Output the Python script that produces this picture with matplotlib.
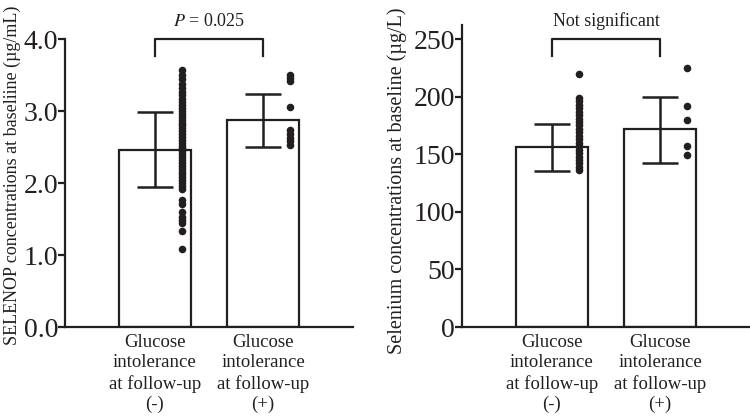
import matplotlib
matplotlib.use("Agg")
import matplotlib.pyplot as plt

plt.rcParams["font.family"] = ["Liberation Serif", "DejaVu Serif"]
plt.rcParams["mathtext.fontset"] = "stix"
INK = "#231f20"

categories = ["Glucose\nintolerance\nat follow-up\n(-)", "Glucose\nintolerance\nat follow-up\n(+)"]

# SELENOP (µg/mL)
selenop_mean = [2.46, 2.875]
selenop_lo = [1.94, 2.50]
selenop_hi = [2.98, 3.23]
selenop_neg = [3.57, 3.50, 3.44, 3.38, 3.32, 3.27, 3.22, 3.17, 3.12, 3.08, 3.04, 3.00,
               2.96, 2.92, 2.88, 2.84, 2.80, 2.76, 2.72, 2.68, 2.64, 2.60, 2.56, 2.52,
               2.48, 2.44, 2.40, 2.36, 2.32, 2.28, 2.24, 2.20, 2.16, 2.12, 2.08, 2.04,
               2.00, 1.96, 1.92, 1.76, 1.71, 1.60, 1.53, 1.48, 1.44, 1.34, 1.08]
selenop_pos = [3.50, 3.46, 3.42, 3.05, 2.73, 2.68, 2.63, 2.58, 2.53]

# Selenium (µg/L)
selenium_mean = [156, 171.6]
selenium_lo = [135.4, 142]
selenium_hi = [176, 200]
selenium_neg = [220, 199, 196, 193, 190, 187, 184, 181, 178, 175, 172, 169, 166, 163,
                160, 157, 154, 151, 148, 145, 142, 139, 136]
selenium_pos = [225, 192, 180, 157, 149]

fig = plt.figure(figsize=(7.5, 4.17), dpi=100)
ax1 = fig.add_axes([0.0867, 0.2158, 0.384, 0.6906])
ax2 = fig.add_axes([0.616, 0.2158, 0.384, 0.7237])


def panel(ax, mean, lo, hi, groups, ymax, yticks, yticklabels, bracket, note):
    x = [0, 1]
    ax.bar(x, mean, width=0.66, color="white", edgecolor=INK, linewidth=1.6, zorder=1)
    for i in x:
        ax.errorbar([i], [mean[i]], yerr=[[mean[i] - lo[i]], [hi[i] - mean[i]]],
                    fmt="none", ecolor=INK, elinewidth=1.8, capsize=13, capthick=1.8, zorder=3)
        ax.scatter([i + 0.25] * len(groups[i]), groups[i], s=30, color=INK,
                   linewidths=0, zorder=4)
    ax.set_xlim(-0.83, 1.83)
    ax.set_ylim(0, ymax)
    ax.set_yticks(yticks)
    ax.set_yticklabels(yticklabels, fontsize=20)
    ax.set_xticks(x)
    ax.set_xticklabels(categories, fontsize=13.5, linespacing=1.25)
    ax.tick_params(axis="x", length=0, pad=5, colors=INK)
    ax.tick_params(axis="y", length=5, width=1.6, pad=0, colors=INK)
    for s in ("top", "right"):
        ax.spines[s].set_visible(False)
    for s in ("left", "bottom"):
        ax.spines[s].set_linewidth(1.6)
        ax.spines[s].set_color(INK)
    top, leg = bracket
    ax.plot([0, 0, 1, 1], [leg, top, top, leg], color=INK, lw=1.6, clip_on=False)
    ty = top + (top - leg) * 0.55
    ax.text(0.5, ty, note, ha="center", va="bottom", fontsize=13, color=INK)


panel(ax1, selenop_mean, selenop_lo, selenop_hi, [selenop_neg, selenop_pos], 4.0,
      [0, 1, 2, 3, 4], ["0.0", "1.0", "2.0", "3.0", "4.0"], (4.0, 3.76),
      r"$\it{P}$ = 0.025")
panel(ax2, selenium_mean, selenium_lo, selenium_hi, [selenium_neg, selenium_pos], 262,
      [0, 50, 100, 150, 200, 250], ["0", "50", "100", "150", "200", "250"], (250, 235),
      "Not significant")

fig.text(0.016, 0.58, "SELENOP concentrations at baseliine (µg/mL)", rotation=90,
         ha="center", va="center", fontsize=13, color=INK)
fig.text(0.529, 0.566, "Selenium concentrations at baseline (µg/L)", rotation=90,
         ha="center", va="center", fontsize=14.5, color=INK)

fig.savefig("out.png", dpi=100)
